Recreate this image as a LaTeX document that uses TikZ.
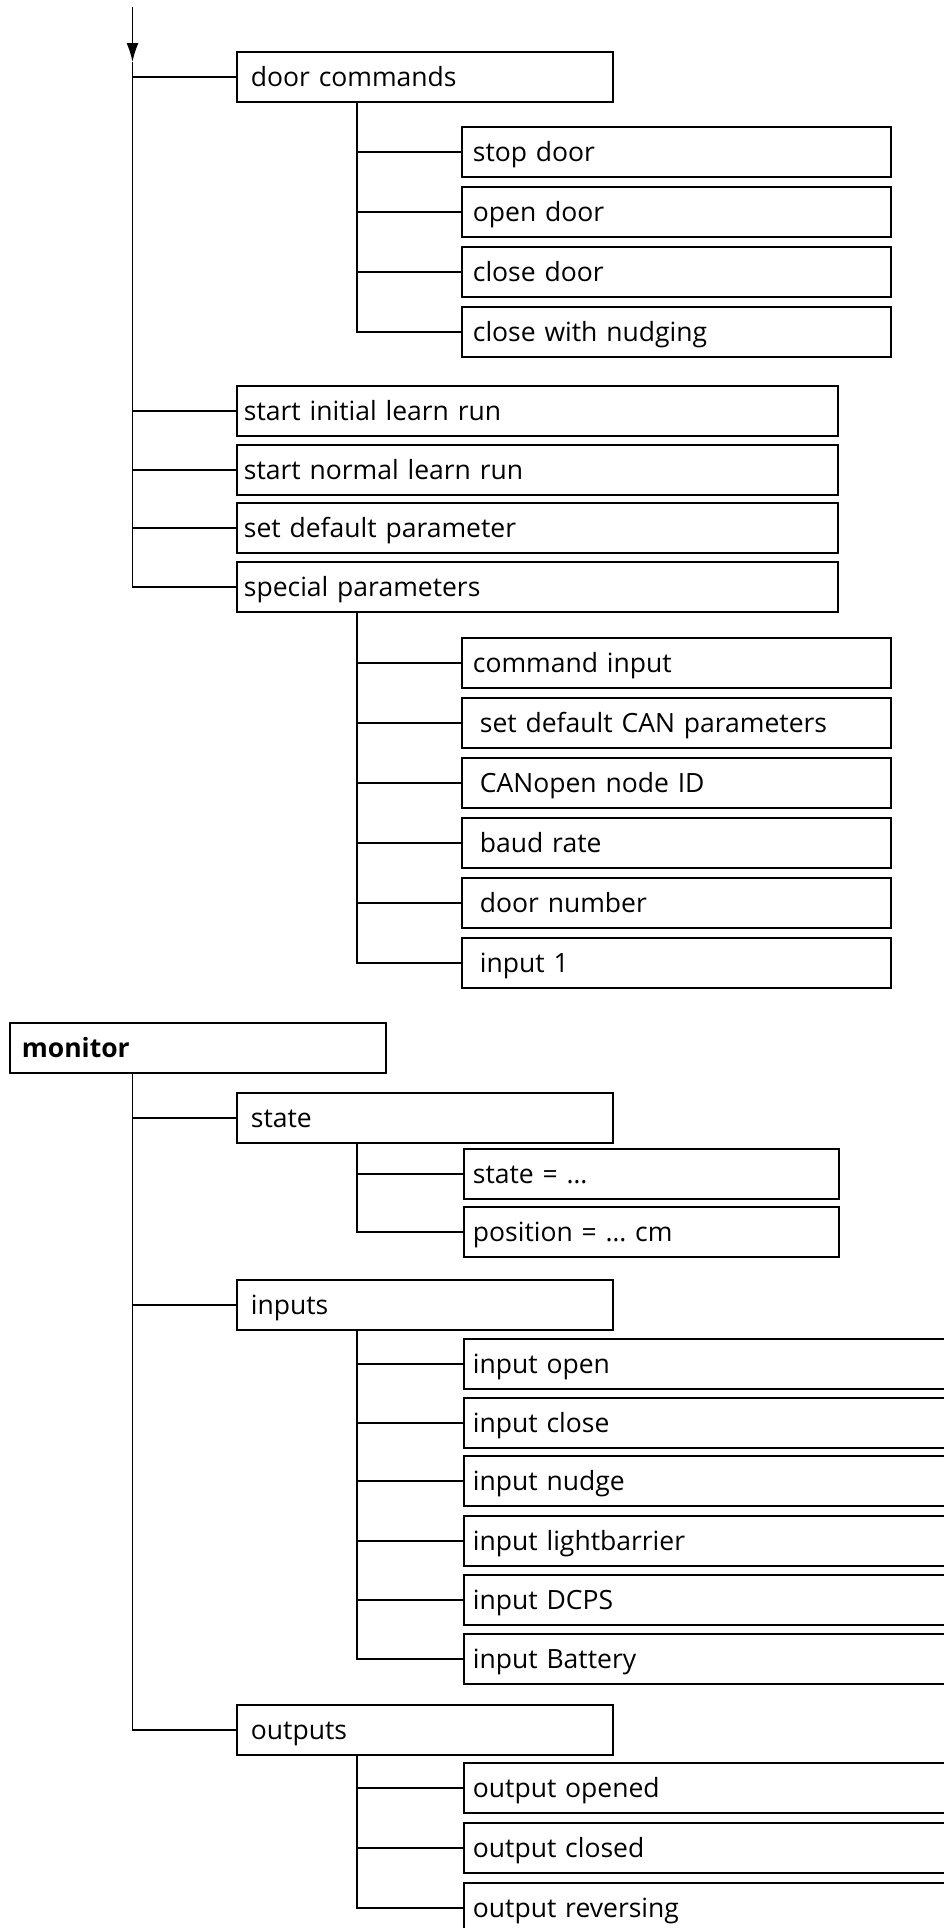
\documentclass[tikz,border=0pt]{standalone}
\usepackage{fontspec}
\setmainfont{Open Sans}
\usepackage{tikz}
\usetikzlibrary{arrows.meta,positioning,calc}

\begin{document}
\begin{tikzpicture}[x=1pt, y=-1pt, line width=1.8pt,
    font=\fontsize{26.5}{30}\selectfont, >={Latex[length=19pt,width=12pt]}]
  \tikzset{box/.style={draw, line width=1.8pt, anchor=north west, minimum height=50pt,
                       text height=19pt, text depth=0pt, align=left},
           grp/.style={box, inner xsep=14pt, text width=348pt},
           cmd/.style={box, inner xsep=7pt, text width=587pt},
           sub/.style={box, inner xsep=#1, text width=429pt-2*#1},
           sub/.default=11pt,
           val/.style={box, inner xsep=9pt, text width=357pt},
           io/.style={box, inner xsep=9pt, text width=540pt}}

  \clip (0,0) rectangle (944,1928);

  % door commands and the learn runs
  \coordinate (in)  at (132.5,7);
  \coordinate (tip) at (132.5,62);
  \node[grp] (dcmd) at (236,51)  {door commands};
  \node[sub] (stop)  at (461,126) {stop door};
  \node[sub] (open)  at (461,186) {open door};
  \node[sub] (close) at (461,246) {close door};
  \node[sub] (nudge) at (461,306) {close with nudging};
  \node[cmd] (init) at (236,385) {start initial learn run};
  \node[cmd] (norm) at (236,444) {start normal learn run};
  \node[cmd] (dflt) at (236,502) {set default parameter};
  \node[cmd] (spec) at (236,561) {special parameters};

  % special parameters
  \node[sub]      (cmdin) at (461,637) {command input};
  \node[sub=18pt] (canp)  at (461,697) {set default CAN parameters};
  \node[sub=18pt] (cnid)  at (461,757) {CANopen node ID};
  \node[sub=18pt] (baud)  at (461,817) {baud rate};
  \node[sub=18pt] (dnum)  at (461,877) {door number};
  \node[sub=18pt] (in1)   at (461,937) {input 1};

  \draw[->] (in) -- (tip);
  \draw (tip) |- (dcmd.west) (tip) |- (init.west) (tip) |- (norm.west)
        (tip) |- (dflt.west) (tip) |- (spec.west);
  \coordinate (dcmd-t) at ([xshift=121pt]dcmd.south west);
  \draw (dcmd-t) |- (stop.west) (dcmd-t) |- (open.west) (dcmd-t) |- (close.west)
        (dcmd-t) |- (nudge.west);
  \coordinate (spec-t) at ([xshift=121pt]spec.south west);
  \draw (spec-t) |- (cmdin.west) (spec-t) |- (canp.west) (spec-t) |- (cnid.west)
        (spec-t) |- (baud.west) (spec-t) |- (dnum.west) (spec-t) |- (in1.west);

  % monitor
  \node[grp, inner xsep=12pt, text width=352pt,
        font=\fontsize{26.5}{30}\selectfont\bfseries] (mon) at (9,1022) {monitor};
  \node[grp] (st)   at (236,1092) {state};
  \node[val] (stv)  at (463,1148) {state = \dots};
  \node[val] (pos)  at (463,1206) {position = \dots\ cm};
  \node[grp] (inp)  at (236,1279) {inputs};
  \node[io] (iopen)  at (463,1338) {input open};
  \node[io] (iclose) at (463,1397) {input close};
  \node[io] (inudge) at (463,1455) {input nudge};
  \node[io] (ilb)    at (463,1515) {input lightbarrier};
  \node[io] (idcps)  at (463,1574) {input DCPS};
  \node[io] (ibat)   at (463,1633) {input Battery};
  \node[grp] (outp) at (236,1704) {outputs};
  \node[io] (oop)  at (463,1762) {output opened};
  \node[io] (ocl)  at (463,1822) {output closed};
  \node[io] (orev) at (463,1882) {output reversing};

  \coordinate (mon-t) at ([xshift=123.5pt]mon.south west);
  \draw (mon-t) |- (st.west) (mon-t) |- (inp.west) (mon-t) |- (outp.west);
  \coordinate (st-t) at ([xshift=121pt]st.south west);
  \draw (st-t) |- (stv.west) (st-t) |- (pos.west);
  \coordinate (inp-t) at ([xshift=121pt]inp.south west);
  \draw (inp-t) |- (iopen.west) (inp-t) |- (iclose.west) (inp-t) |- (inudge.west)
        (inp-t) |- (ilb.west) (inp-t) |- (idcps.west) (inp-t) |- (ibat.west);
  \coordinate (outp-t) at ([xshift=121pt]outp.south west);
  \draw (outp-t) |- (oop.west) (outp-t) |- (ocl.west) (outp-t) |- (orev.west);
\end{tikzpicture}
\end{document}
